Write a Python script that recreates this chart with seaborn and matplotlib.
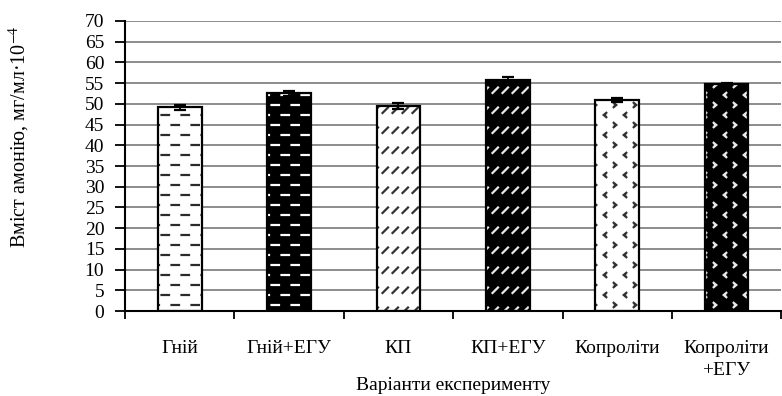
import numpy as np
import pandas as pd
import matplotlib
matplotlib.use("Agg")
import matplotlib.pyplot as plt
import matplotlib.hatch as mhatch
from matplotlib.path import Path
from matplotlib.patches import Rectangle
import seaborn as sns

# ---- data ----
categories = ["Гній", "Гній+ЕГУ", "КП", "КП+ЕГУ", "Копроліти", "Копроліти\n+ЕГУ"]
values = [49.2, 52.5, 49.4, 55.7, 51.0, 54.9]
errors = [0.6, 0.5, 0.75, 0.9, 0.5, 0.2]
y_ticks = list(range(0, 75, 5))
x_title = "Варіанти експерименту"
y_title = "Вміст амонію, мг/мл·10$^{-4}$"

# ---- custom hatch patterns (dashes, short diagonals, dotted chevrons) ----
class DashHatch(mhatch.HatchPatternBase):
    def __init__(self, hatch, density):
        self.on = "-" in hatch
        self.rows, self.cols = 10, 5
        self.num_vertices = self.rows * self.cols * 2 if self.on else 0

    def set_vertices_and_codes(self, vertices, codes):
        k = 0
        for i in range(self.rows):
            y = (i + 0.5) / self.rows
            off = 0.0 if i % 2 == 0 else 0.1
            for j in range(self.cols):
                x0 = off + j * 0.2 + 0.015
                vertices[k] = (x0, y)
                vertices[k + 1] = (x0 + 0.075, y)
                codes[k] = Path.MOVETO
                codes[k + 1] = Path.LINETO
                k += 2


class DiagHatch(mhatch.HatchPatternBase):
    def __init__(self, hatch, density):
        self.on = "/" in hatch
        self.rows, self.cols = 5, 10
        self.num_vertices = self.rows * self.cols * 2 if self.on else 0

    def set_vertices_and_codes(self, vertices, codes):
        k = 0
        for i in range(self.rows):
            y = i * 0.2 + 0.07
            for j in range(self.cols):
                x0 = j * 0.1 + 0.025
                vertices[k] = (x0, y)
                vertices[k + 1] = (x0 + 0.055, y + 0.055)
                codes[k] = Path.MOVETO
                codes[k + 1] = Path.LINETO
                k += 2


class ChevronHatch(mhatch.HatchPatternBase):
    def __init__(self, hatch, density):
        self.on = "." in hatch
        self.rows, self.cols = 5, 5
        self.num_vertices = self.rows * self.cols * 2 * 3 if self.on else 0

    def set_vertices_and_codes(self, vertices, codes):
        k = 0
        for i in range(self.rows):
            for j in range(self.cols):
                # '<'
                x, y = j * 0.2 + 0.05, i * 0.2 + 0.05
                vertices[k:k + 3] = [(x + 0.013, y + 0.022), (x - 0.013, y), (x + 0.013, y - 0.022)]
                codes[k:k + 3] = [Path.MOVETO, Path.LINETO, Path.LINETO]
                k += 3
                # '>'
                x, y = j * 0.2 + 0.15, i * 0.2 + 0.15
                vertices[k:k + 3] = [(x - 0.013, y + 0.022), (x + 0.013, y), (x - 0.013, y - 0.022)]
                codes[k:k + 3] = [Path.MOVETO, Path.LINETO, Path.LINETO]
                k += 3


mhatch._hatch_types[:] = [DashHatch, DiagHatch, ChevronHatch]

# ---- style ----
sns.set_theme(style="white")
plt.rcParams["font.family"] = ["Liberation Serif", "DejaVu Serif"]
plt.rcParams["mathtext.fontset"] = "stix"
plt.rcParams["hatch.linewidth"] = 1.6

fig = plt.figure(figsize=(7.82, 3.96), dpi=100)
ax = fig.add_axes([0.16, 0.2146, 0.839, 0.7324])

df = pd.DataFrame({"cat": categories, "val": values})
sns.barplot(data=df, x="cat", y="val", width=0.4, color="white", errorbar=None, ax=ax, zorder=2)

hatches = ["-", "-", "/", "/", ".", "."]
faces = ["white", "black", "white", "black", "white", "black"]
hatch_cols = ["#2a2a2a", "white", "#333333", "#e8e8e8", "#333333", "#e8e8e8"]
for p, h, fc, hc in zip(ax.patches, hatches, faces, hatch_cols):
    p.set_facecolor(fc)
    p.set_edgecolor(hc)
    p.set_hatch(h)
    p.set_linewidth(0)
    ax.add_patch(Rectangle(p.get_xy(), p.get_width(), p.get_height(), fill=False,
                           edgecolor="black", linewidth=1.6, zorder=3))

ax.errorbar(np.arange(len(values)), values, yerr=errors, fmt="none", ecolor="black",
            elinewidth=1.3, capsize=4.5, capthick=1.6, zorder=4)

ax.set_ylim(0, 70)
ax.set_xlim(-0.5, len(categories) - 0.5)
ax.set_yticks(y_ticks)
ax.set_yticklabels([str(t) for t in y_ticks])
ax.yaxis.grid(True, color="#8c8c8c", linewidth=1.4, zorder=0)
ax.set_axisbelow(True)

ax.set_xticks(np.arange(-0.5, len(categories)), labels=[""] * (len(categories) + 1))
ax.set_xticks(np.arange(len(categories)), labels=categories, minor=True)
ax.tick_params(axis="x", which="major", direction="out", length=6, width=1.3, color="black", bottom=True)
ax.tick_params(axis="x", which="minor", length=0, pad=21, labelsize=14, colors="black")
ax.tick_params(axis="y", direction="out", length=7, width=1.3, color="black", left=True, pad=8,
               labelsize=14, labelcolor="black")
for lbl in ax.get_xticklabels(minor=True):
    lbl.set_linespacing(1.35)

for s in ["top", "right"]:
    ax.spines[s].set_visible(False)
for s in ["left", "bottom"]:
    ax.spines[s].set_color("black")
    ax.spines[s].set_linewidth(1.5)

ax.set_xlabel(x_title, fontsize=14, color="black")
ax.xaxis.set_label_coords(0.5, -0.228)
ax.set_ylabel(y_title, fontsize=14.5, color="black")
ax.yaxis.set_label_coords(-0.142, 0.6)

fig.savefig("out.png", dpi=100)
